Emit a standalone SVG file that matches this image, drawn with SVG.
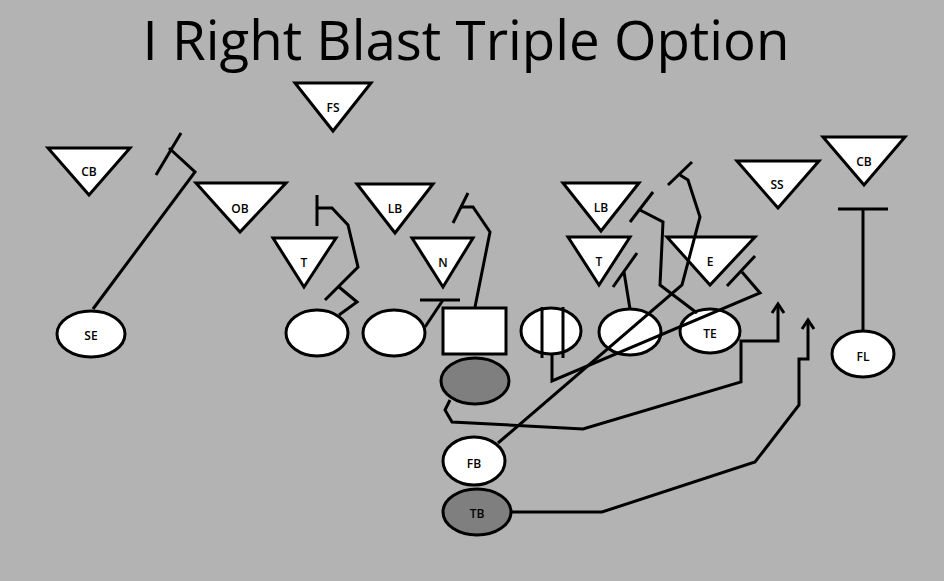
<svg xmlns="http://www.w3.org/2000/svg" width="944" height="581" viewBox="0 0 944 581">
<style>
.d{fill:#fff;stroke:#000;stroke-width:3;stroke-linejoin:miter}
.o{fill:#fff;stroke:#000;stroke-width:3}
.g{fill:#7f7f7f;stroke:#000;stroke-width:3}
.l{font-family:"Open Sans","Liberation Sans",sans-serif;font-size:12px;font-weight:600;fill:#000;text-anchor:middle;dominant-baseline:central}
.r{fill:none;stroke:#000;stroke-width:3;stroke-linejoin:miter}
</style>
<rect width="944" height="581" fill="#b3b3b3"/>
<text x="466" y="60" font-family="Open Sans, Liberation Sans, sans-serif" font-size="54" text-anchor="middle" textLength="647" lengthAdjust="spacingAndGlyphs">I Right Blast Triple Option</text>
<g id="def-CB-left"><polygon class="d" points="48,148 130,148 89,195"/><text class="l" x="89" y="171">CB</text></g>
<g id="def-OB"><polygon class="d" points="196,183 286,183 240,232"/><text class="l" x="240" y="208">OB</text></g>
<g id="def-FS"><polygon class="d" points="295,83 371,83 333,131"/><text class="l" x="333" y="107">FS</text></g>
<g id="def-T-left"><polygon class="d" points="273,238 336,238 304,287"/><text class="l" x="304" y="262">T</text></g>
<g id="def-LB-left"><polygon class="d" points="357,184 433,184 395,233"/><text class="l" x="395" y="208">LB</text></g>
<g id="def-N"><polygon class="d" points="412,238 473,238 443,287"/><text class="l" x="443" y="262">N</text></g>
<g id="def-LB-right"><polygon class="d" points="563,183 639,183 601,231"/><text class="l" x="601" y="207">LB</text></g>
<g id="def-T-right"><polygon class="d" points="568,237 630,237 599,285"/><text class="l" x="599" y="261">T</text></g>
<g id="def-E"><polygon class="d" points="667,237 755,237 710,285"/><text class="l" x="710" y="261">E</text></g>
<g id="def-SS"><polygon class="d" points="737,161 819,161 778,208"/><text class="l" x="777" y="184">SS</text></g>
<g id="def-CB-right"><polygon class="d" points="823,137 905,137 864,185"/><text class="l" x="864" y="161">CB</text></g>
<g id="off-SE"><ellipse class="o" cx="91" cy="334" rx="34" ry="23"/><text class="l" x="91" y="335">SE</text></g>
<g id="off-LT"><ellipse class="o" cx="317" cy="333" rx="31" ry="23"/></g>
<g id="off-LG"><ellipse class="o" cx="394" cy="333" rx="31" ry="23"/></g>
<g id="off-C"><rect class="o" x="443" y="308" width="63" height="46"/></g>
<g id="off-RG"><ellipse class="o" cx="551" cy="331" rx="30" ry="23"/><path class="r" d="M542,307 V358 M563,307 V358"/></g>
<g id="off-RT"><ellipse class="o" cx="630" cy="332" rx="31" ry="23"/></g>
<g id="off-TE"><ellipse class="o" cx="710" cy="331" rx="30" ry="22"/><text class="l" x="710" y="333">TE</text></g>
<g id="off-FL"><ellipse class="o" cx="863" cy="354" rx="31" ry="23"/><text class="l" x="863" y="356">FL</text></g>
<g id="off-QB"><ellipse class="g" cx="475" cy="381" rx="34" ry="23"/></g>
<g id="off-FB"><ellipse class="o" cx="474" cy="461" rx="31" ry="24"/><text class="l" x="474" y="463">FB</text></g>
<g id="off-TB"><ellipse class="g" cx="477" cy="512" rx="34" ry="23"/><text class="l" x="477" y="513">TB</text></g>
<g id="connectors">
<path class="r" d="M93,309 L195,172 L169,148"/>
<path class="r" d="M156,175 L181,133"/>
<path class="r" d="M325,300 L358,267 L348,225 L332,208 L317,208"/>
<path class="r" d="M317,195 V226"/>
<path class="r" d="M339,315 L357,302 L339,287"/>
<path class="r" d="M425,327 L443,300"/>
<path class="r" d="M420,300 H460"/>
<path class="r" d="M475,307 L490,232 L473,207 L460,207"/>
<path class="r" d="M453,223 L468,193"/>
<path class="r" d="M552,355 V381 L760,293 L742,272"/>
<path class="r" d="M727,286 L755,256"/>
<path class="r" d="M630,309 L624,272"/>
<path class="r" d="M613,287 L637,253"/>
<path class="r" d="M697,313 L660,285 L663,222 L640,210"/>
<path class="r" d="M630,222 L653,192"/>
<path class="r" d="M498,443 L682,285 L700,217 L688,180 L680,175"/>
<path class="r" d="M668,185 L692,162"/>
<path class="r" d="M450,400 L445,410 L452,422 L583,429 L741,382 V341 H778 V304"/>
<path class="r" d="M772,313 L778,304 L784,313"/>
<path class="r" d="M511,512 H602 L755,462 L799,405 V359 H808 V320"/>
<path class="r" d="M802,329 L808,320 L814,329"/>
<path class="r" d="M863,331 V209"/>
<path class="r" d="M838,209 H888"/>
</g>
</svg>
